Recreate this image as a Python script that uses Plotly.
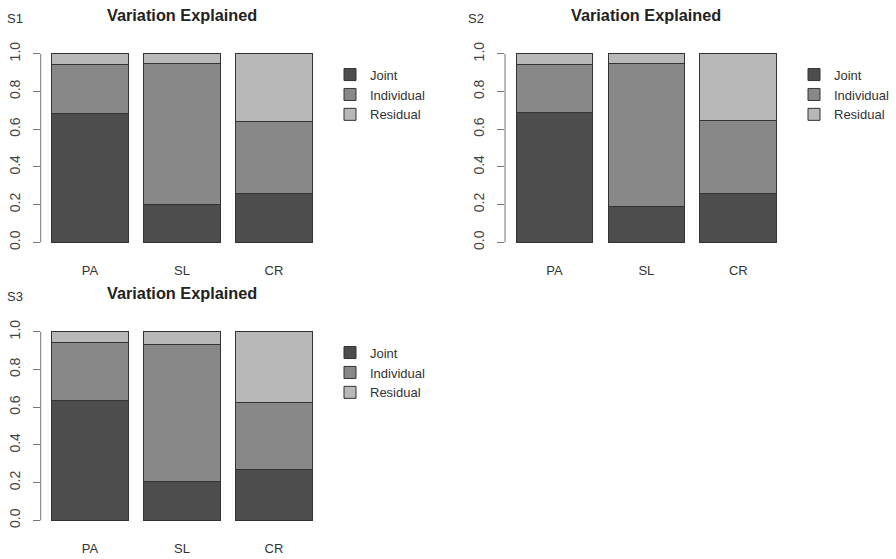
import plotly.graph_objects as go

# ---- data: share of variation per component, per panel ----
categories = ["PA", "SL", "CR"]
components = ["Joint", "Individual", "Residual"]
panel_labels = ["S1", "S2", "S3"]

s1_joint = [0.683, 0.202, 0.258]
s1_individual = [0.259, 0.745, 0.384]
s1_residual = [0.058, 0.053, 0.358]

s2_joint = [0.689, 0.188, 0.258]
s2_individual = [0.253, 0.761, 0.386]
s2_residual = [0.058, 0.051, 0.356]

s3_joint = [0.635, 0.204, 0.270]
s3_individual = [0.306, 0.731, 0.356]
s3_residual = [0.059, 0.065, 0.374]

y_ticks = [0.0, 0.2, 0.4, 0.6, 0.8, 1.0]

panels = [
    (s1_joint, s1_individual, s1_residual),
    (s2_joint, s2_individual, s2_residual),
    (s3_joint, s3_individual, s3_residual),
]

# ---- styling ----
W, H = 896, 559
FONT = "Liberation Sans, Arial, Helvetica, sans-serif"
fills = {"Joint": "#4d4d4d", "Individual": "#888888", "Residual": "#b8b8b8"}
edge = "#333333"
axis_grey = "#777777"

# barplot geometry: unit-width bars separated by 0.2 (with a trailing gap),
# axes padded by 4% on each side
bar_width, bar_space = 1.0, 0.2
centers = [bar_space + i * (bar_width + bar_space) + bar_width / 2 for i in range(len(categories))]
x_lo = bar_space
x_hi = len(categories) * (bar_width + bar_space) + bar_space
pad_x = 0.04 * (x_hi - x_lo)
x_range = [x_lo - pad_x, x_hi + pad_x]
y_range = [-0.04, 1.04]

# plot regions in pixels: (left, right, top, bottom)
regions = [
    (40.7, 338.7, 42.5, 247.7),
    (505.0, 803.0, 42.5, 247.7),
    (40.7, 338.7, 322.5, 527.7),
]
# legend anchor (left, top) in pixels
legend_pos = [(330, 56), (794, 56), (330, 336)]
# title centre and panel tag centre in pixels
title_pos = [(182, 11.5), (646, 11.5), (182, 291.5)]
tag_pos = [(14.5, 15), (475.5, 15), (14.5, 295)]


def px_x(v):
    return v / W


def px_y(v):
    return 1 - v / H


fig = go.Figure()
layout = dict(
    width=W, height=H,
    margin=dict(l=0, r=0, t=0, b=0),
    paper_bgcolor="white", plot_bgcolor="white",
    barmode="stack",
    font=dict(family=FONT, color="#333333"),
    showlegend=True,
)
annotations = []
shapes = []

for k, (values, region) in enumerate(zip(panels, regions)):
    n = "" if k == 0 else str(k + 1)
    xa, ya = "x" + n, "y" + n
    leg = "legend" + n
    left, right, top, bottom = region

    for comp, vals in zip(components, values):
        fig.add_trace(go.Bar(
            x=centers, y=vals, width=bar_width, name=comp,
            marker=dict(color=fills[comp], line=dict(color=edge, width=1)),
            xaxis=xa, yaxis=ya, legend=leg, showlegend=True,
            hoverinfo="skip",
        ))

    layout["xaxis" + n] = dict(
        domain=[px_x(left), px_x(right)], range=x_range, anchor=ya,
        tickmode="array", tickvals=centers, ticktext=categories,
        ticks="", showline=False, showgrid=False, zeroline=False,
        tickfont=dict(family=FONT, size=13, color="#333333"),
        ticklabelstandoff=11, fixedrange=True,
    )
    layout["yaxis" + n] = dict(
        domain=[px_y(bottom), px_y(top)], range=y_range, anchor=xa,
        tickmode="array", tickvals=y_ticks,
        ticktext=[f"{t:.1f}" for t in y_ticks],
        ticks="outside", ticklen=7, tickwidth=1, tickcolor=axis_grey,
        tickangle=-90, showline=False, showgrid=False, zeroline=False,
        tickfont=dict(family=FONT, size=14, color="#444444"),
        ticklabelstandoff=7, fixedrange=True,
    )
    # y axis line spanning only the tick range
    shapes.append(dict(
        type="line", xref="paper", yref=ya,
        x0=px_x(left), x1=px_x(left), y0=y_ticks[0], y1=y_ticks[-1],
        line=dict(color=axis_grey, width=1),
    ))

    lx, ly = legend_pos[k]
    layout[leg] = dict(
        x=px_x(lx), y=px_y(ly), xanchor="left", yanchor="top",
        traceorder="normal", bgcolor="rgba(0,0,0,0)",
        font=dict(family=FONT, size=13, color="#333333"),
        itemclick=False, itemdoubleclick=False,
    )

    tx, ty = title_pos[k]
    annotations.append(dict(
        text="<b>Variation Explained</b>", xref="paper", yref="paper",
        x=px_x(tx), y=px_y(ty), xanchor="center", yanchor="middle",
        showarrow=False, font=dict(family=FONT, size=16.3, color="#222222"),
    ))
    sx, sy = tag_pos[k]
    annotations.append(dict(
        text=panel_labels[k], xref="paper", yref="paper",
        x=px_x(sx), y=px_y(sy), xanchor="center", yanchor="middle",
        showarrow=False, font=dict(family=FONT, size=13, color="#333333"),
    ))

layout["annotations"] = annotations
layout["shapes"] = shapes
fig.update_layout(**layout)

fig.write_html("out.html")
